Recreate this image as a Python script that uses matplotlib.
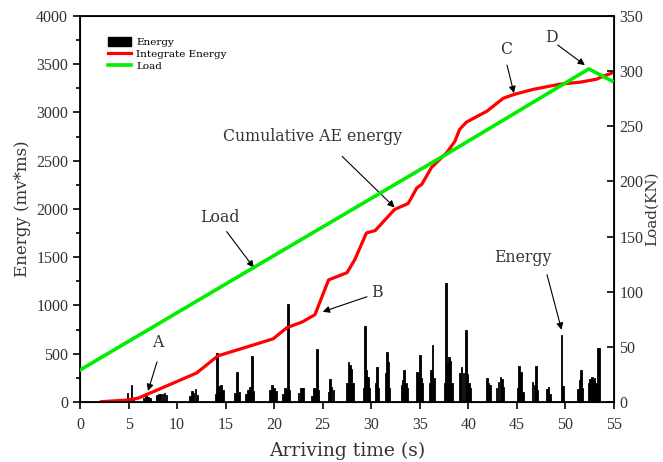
import numpy as np
import matplotlib.pyplot as plt
from matplotlib.lines import Line2D
from matplotlib.patches import Patch

plt.rcParams['font.family'] = ['DejaVu Serif']

# AE energy spikes (time s, energy mv*ms)
spike_t = [4.7, 4.9, 5.1, 5.3, 5.5,
           6.6, 6.8, 7.0, 7.2,
           7.9, 8.1, 8.3, 8.5, 8.7, 8.9,
           11.3, 11.5, 11.7, 11.9, 12.05,
           14.0, 14.1, 14.3, 14.5, 14.7,
           15.95, 16.2, 16.35,
           17.1, 17.3, 17.5, 17.7, 17.85,
           19.6, 19.8, 20.0, 20.15,
           20.9, 21.1, 21.25, 21.4, 21.55,
           22.5, 22.7, 22.9, 23.0,
           23.9, 24.1, 24.25, 24.4, 24.5,
           25.6, 25.75, 25.9, 26.1,
           27.5, 27.65, 27.8, 27.95, 28.1,
           29.2, 29.35, 29.5, 29.65, 29.8,
           30.5, 30.6, 30.75,
           31.5, 31.6, 31.7, 31.85,
           33.1, 33.25, 33.4, 33.55, 33.7,
           34.7, 34.85, 35.0, 35.1, 35.25,
           36.0, 36.15, 36.3, 36.45,
           37.6, 37.7, 37.85, 38.0, 38.15, 38.3,
           39.1, 39.3, 39.5, 39.75, 39.9, 40.1, 40.2,
           41.9, 42.05, 42.2,
           42.9, 43.1, 43.3, 43.45, 43.6,
           45.1, 45.25, 45.4, 45.6,
           46.6, 46.8, 46.95, 47.1,
           48.1, 48.25, 48.4,
           49.6, 49.75,
           51.3, 51.45, 51.6, 51.75,
           52.4, 52.55, 52.7, 52.85, 53.0, 53.15, 53.3, 53.45]
spike_e = [30, 90, 40, 175, 30,
           40, 60, 50, 45,
           70, 80, 85, 80, 90, 75,
           60, 110, 90, 135, 70,
           80, 506, 170, 180, 120,
           90, 315, 100,
           80, 120, 160, 478, 110,
           125, 175, 140, 110,
           80, 150, 120, 1018, 120,
           90, 145, 150, 140,
           60, 150, 130, 551, 120,
           100, 235, 160, 120,
           200, 412, 385, 340, 200,
           150, 790, 332, 263, 150,
           200, 360, 150,
           300, 523, 415, 150,
           180, 230, 332, 194, 140,
           315, 300, 488, 250, 200,
           200, 332, 592, 250,
           200, 1233, 402, 471, 420, 200,
           300, 364, 300, 748, 290, 200, 140,
           246, 200, 180,
           150, 211, 263, 240, 160,
           150, 374, 315, 100,
           211, 180, 374, 120,
           130, 159, 80,
           696, 170,
           130, 228, 332, 140,
           194, 240, 263, 220, 250, 200, 558, 560]

# cumulative energy curve
cum_t = [2.2, 4.9, 6.0, 8.2, 12.0, 14.2, 17.5, 19.9, 21.3, 22.9, 24.2,
         25.6, 27.5, 28.3, 29.5, 30.4, 32.4, 33.8, 34.7, 35.2, 36.2, 37.8,
         38.6, 39.1, 39.8, 41.9, 43.6, 44.8, 46.7, 49.4, 51.5, 53.2, 53.9, 55.0]
cum_e = [3, 20, 40, 135, 300, 478, 580, 655, 770, 830, 905,
         1265, 1340, 1475, 1752, 1776, 1995, 2057, 2220, 2255, 2430, 2587,
         2700, 2825, 2900, 3013, 3148, 3190, 3240, 3293, 3314, 3345, 3376, 3417]

# load curve
load_t = [0, 17.9, 37.8, 52.4, 54.8]
load_kn = [29, 122, 225, 302, 291]

fig = plt.figure(figsize=(6.63, 4.62), dpi=100)
ax = fig.add_axes([0.1207, 0.1299, 0.8054, 0.8355])
ax2 = ax.twinx()

ax.bar(spike_t, spike_e, width=0.18, color='black', edgecolor='black', linewidth=0.6, zorder=2)
ax.plot(cum_t, cum_e, color='#ff0000', lw=2.3, zorder=3)
ax2.plot(load_t, load_kn, color='#00ee00', lw=2.6, zorder=4)

ax.set_xlim(0, 55)
ax.set_ylim(0, 4000)
ax2.set_ylim(0, 350)
ax.set_xticks(np.arange(0, 56, 5))
ax.set_yticks(np.arange(0, 4001, 500))
ax.set_yticks(np.arange(250, 4000, 500), minor=True)
ax2.set_yticks(np.arange(0, 351, 50))

for lab in ax.get_xticklabels() + ax.get_yticklabels() + ax2.get_yticklabels():
    lab.set_fontfamily('Liberation Serif')
    lab.set_fontsize(11.5)
    lab.set_color('#333333')
ax.tick_params(axis='x', which='major', direction='out', length=5, width=1.2, pad=6)
ax.tick_params(axis='y', which='major', direction='out', length=5, width=1.2)
ax.tick_params(axis='y', which='minor', direction='out', length=3, width=1.2)
ax2.tick_params(axis='y', direction='in', length=5, width=1.2, pad=4)
for sp in ax2.spines.values():
    sp.set_linewidth(1.3)

ax.set_xlabel('Arriving time (s)', fontsize=13.5, color='#333333', labelpad=6)
ax.set_ylabel('Energy (mv*ms)', fontsize=12, color='#333333', labelpad=4)
ax2.set_ylabel('Load(KN)', fontsize=11, color='#333333', labelpad=1)

handles = [Patch(facecolor='black', edgecolor='black'),
           Line2D([], [], color='#ff0000', lw=2.3),
           Line2D([], [], color='#00ee00', lw=2.6)]
ax.legend(handles, ['Energy', 'Integrate Energy', 'Load'], loc='upper left',
          bbox_to_anchor=(0.035, 0.97), frameon=False, fontsize=7.5,
          handlelength=2.2, handleheight=0.9, labelspacing=0.2, handletextpad=0.5)

arrow = dict(arrowstyle='-|>', color='black', lw=0.8, mutation_scale=10, shrinkA=0, shrinkB=0)
notes = [('A', (7.0, 114), (8.0, 613)),
         ('B', (25.0, 935), (30.6, 1132)),
         ('C', (44.7, 3200), (43.9, 3657)),
         ('D', (52.0, 3491), (48.6, 3782)),
         ('Load', (17.9, 1392), (14.4, 1912)),
         ('Cumulative AE energy', (32.4, 2016), (23.9, 2753)),
         ('Energy', (49.6, 748), (45.6, 1496))]
# arrows start just outside the text
starts = [(7.93, 416), (29.56, 1091), (43.98, 3491), (49.2, 3699),
          (15.1, 1766), (27.0, 2545), (48.1, 1319)]
for (txt, tip, pos), st in zip(notes, starts):
    ax.text(pos[0], pos[1], txt, ha='center', va='center', fontsize=11.3, color='#333333', zorder=6)
    ax.annotate('', xy=tip, xytext=st, arrowprops=arrow, zorder=6)

fig.savefig('out.png', dpi=100)
